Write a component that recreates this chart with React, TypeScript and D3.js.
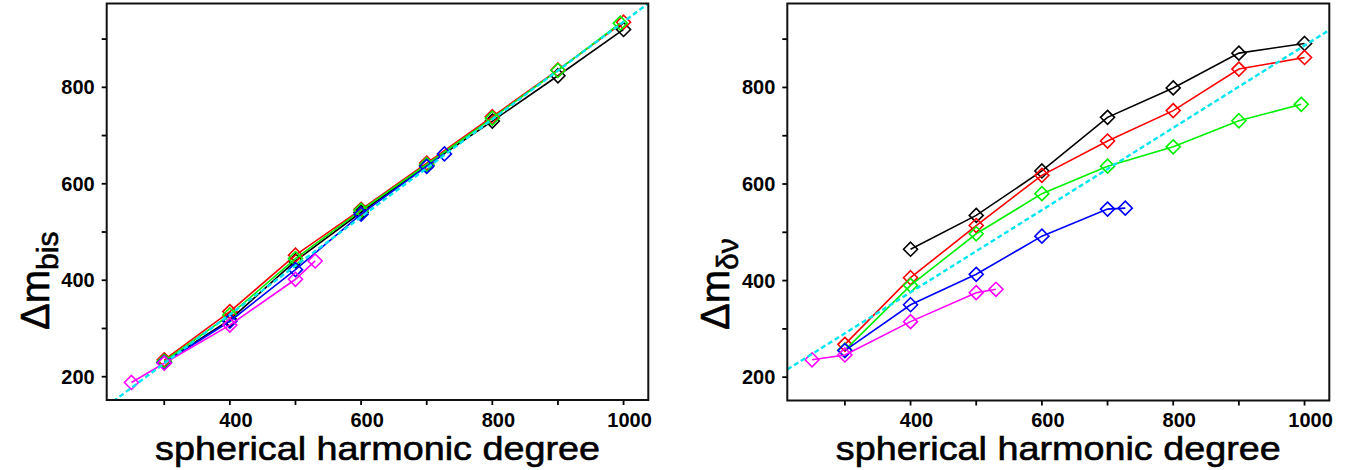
import React from "react";
import * as d3 from "d3";

// ---- data ----
const seriesNames = ["black", "red", "green", "blue", "magenta"];
const seriesColors = ["#000000", "#ff0000", "#00f000", "#0000ff", "#ff00ff"];

// Left panel: Δm_bis
const bisBlackX = [300, 400, 500, 600, 700, 800, 900, 1000];
const bisBlackY = [230, 318, 440, 541, 638, 730, 824, 920];
const bisRedX = [300, 400, 500, 600, 700, 800, 900, 1000];
const bisRedY = [235, 335, 452, 547, 643, 739, 836, 935];
const bisGreenX = [300, 400, 500, 600, 700, 800, 900, 995];
const bisGreenY = [232, 328, 445, 545, 640, 736, 835, 933];
const bisBlueX = [300, 400, 500, 600, 700, 727];
const bisBlueY = [229, 315, 422, 537, 636, 662];
const bisMagentaX = [250, 300, 400, 500, 530];
const bisMagentaY = [188, 228, 307, 402, 440];

// Right panel: Δm_δν
const dnuBlackX = [400, 500, 600, 700, 800, 900, 1000];
const dnuBlackY = [465, 535, 627, 738, 799, 871, 891];
const dnuRedX = [300, 400, 500, 600, 700, 800, 900, 1000];
const dnuRedY = [268, 406, 514, 618, 689, 752, 838, 862];
const dnuGreenX = [300, 400, 500, 600, 700, 800, 900, 995];
const dnuGreenY = [256, 390, 497, 580, 637, 677, 731, 765];
const dnuBlueX = [300, 400, 500, 600, 700, 727];
const dnuBlueY = [255, 350, 413, 492, 548, 550];
const dnuMagentaX = [250, 300, 400, 500, 530];
const dnuMagentaY = [236, 246, 315, 375, 382];

// dashed fit lines (slope, intercept)
const fitSlope = [1.012, 0.8515];
const fitIntercept = [-76, 35.2];

const xDomain = [212.3, 1037.7];
const yDomain = [151.7, 973.8];
const xTicks = [300, 400, 500, 600, 700, 800, 900, 1000];
const xTickLabels = [400, 600, 800, 1000];
const yTicks = [200, 300, 400, 500, 600, 700, 800, 900];
const yTickLabels = [200, 400, 600, 800];

const xTitle = "spherical harmonic degree";

type Series = { x: number[]; y: number[] };

const leftSeries: Series[] = [
  { x: bisBlackX, y: bisBlackY },
  { x: bisRedX, y: bisRedY },
  { x: bisGreenX, y: bisGreenY },
  { x: bisBlueX, y: bisBlueY },
  { x: bisMagentaX, y: bisMagentaY },
];
const rightSeries: Series[] = [
  { x: dnuBlackX, y: dnuBlackY },
  { x: dnuRedX, y: dnuRedY },
  { x: dnuGreenX, y: dnuGreenY },
  { x: dnuBlueX, y: dnuBlueY },
  { x: dnuMagentaX, y: dnuMagentaY },
];

const TICK_FONT = "'Liberation Sans', Arial, sans-serif";
const TITLE_FONT = "'Liberation Sans', Arial, sans-serif";

function Panel({
  id,
  left,
  right,
  top,
  bottom,
  series,
  slope,
  intercept,
  sub,
}: {
  id: string;
  left: number;
  right: number;
  top: number;
  bottom: number;
  series: Series[];
  slope: number;
  intercept: number;
  sub: string;
}) {
  const x = d3.scaleLinear().domain(xDomain).range([left, right]);
  const y = d3.scaleLinear().domain(yDomain).range([bottom, top]);
  const line = d3
    .line<[number, number]>()
    .x((d) => x(d[0]))
    .y((d) => y(d[1]));
  const fitPts: [number, number][] = [
    [xDomain[0], slope * xDomain[0] + intercept],
    [xDomain[1], slope * xDomain[1] + intercept],
  ];
  const diamond = (cx: number, cy: number, r: number) =>
    `M${cx},${cy - r}L${cx + r},${cy}L${cx},${cy + r}L${cx - r},${cy}Z`;
  const cxMid = (left + right) / 2;
  return (
    <g>
      <defs>
        <clipPath id={id}>
          <rect x={left} y={top} width={right - left} height={bottom - top} />
        </clipPath>
      </defs>
      <g clipPath={`url(#${id})`}>
        {series.map((s, i) => {
          const pts = s.x.map((v, k) => [v, s.y[k]] as [number, number]);
          return (
            <g key={i}>
              <path d={line(pts) || ""} fill="none" stroke={seriesColors[i]} strokeWidth={1.6} />
              {pts.map((p, k) => (
                <path
                  key={k}
                  d={diamond(x(p[0]), y(p[1]), 7)}
                  fill="none"
                  stroke={seriesColors[i]}
                  strokeWidth={1.6}
                />
              ))}
            </g>
          );
        })}
        <path
          d={line(fitPts) || ""}
          fill="none"
          stroke="#00e5f0"
          strokeWidth={2.4}
          strokeDasharray="5,3"
        />
      </g>
      {/* ticks */}
      {xTicks.map((t) => (
        <line key={"xt" + t} x1={x(t)} x2={x(t)} y1={bottom} y2={bottom + 5} stroke="#000" strokeWidth={1.8} />
      ))}
      {yTicks.map((t) => (
        <line key={"yt" + t} x1={left - 5} x2={left} y1={y(t)} y2={y(t)} stroke="#000" strokeWidth={1.8} />
      ))}
      {xTickLabels.map((t) => (
        <text
          key={"xl" + t}
          x={x(t) + 6}
          y={427}
          textAnchor="middle"
          fontFamily={TICK_FONT}
          fontWeight="bold"
          fontSize={20}
        >
          {t}
        </text>
      ))}
      {yTickLabels.map((t) => (
        <text
          key={"yl" + t}
          x={left - 12}
          y={y(t) + 7}
          textAnchor="end"
          fontFamily={TICK_FONT}
          fontWeight="bold"
          fontSize={20}
        >
          {t}
        </text>
      ))}
      <rect x={left} y={top} width={right - left} height={bottom - top} fill="none" stroke="#111" strokeWidth={2} />
      <text
        x={cxMid}
        y={460}
        textAnchor="middle"
        fontFamily={TITLE_FONT}
        fontSize={34}
        textLength={445}
        lengthAdjust="spacingAndGlyphs"
        stroke="#000"
        strokeWidth={0.6}
      >
        {xTitle}
      </text>
      <text
        transform={`translate(${left - 58},330) rotate(-90)`}
        fontFamily={TITLE_FONT}
        fontSize={40}
        stroke="#000"
        strokeWidth={0.6}
      >
        <tspan>Δm</tspan>
        <tspan fontSize={30} dy={9}>
          {sub}
        </tspan>
      </text>
    </g>
  );
}

export default function App() {
  return (
    <svg
      width={1371}
      height={470}
      style={{ position: "absolute", left: 0, top: 0, background: "#fff" }}
    >
      <rect x={0} y={0} width={1371} height={470} fill="#fff" />
      <Panel
        id="clipL"
        left={106.7}
        right={648.3}
        top={3.5}
        bottom={400}
        series={leftSeries}
        slope={fitSlope[0]}
        intercept={fitIntercept[0]}
        sub="bis"
      />
      <Panel
        id="clipR"
        left={787.3}
        right={1329.3}
        top={3.5}
        bottom={400.5}
        series={rightSeries}
        slope={fitSlope[1]}
        intercept={fitIntercept[1]}
        sub="δν"
      />
    </svg>
  );
}
